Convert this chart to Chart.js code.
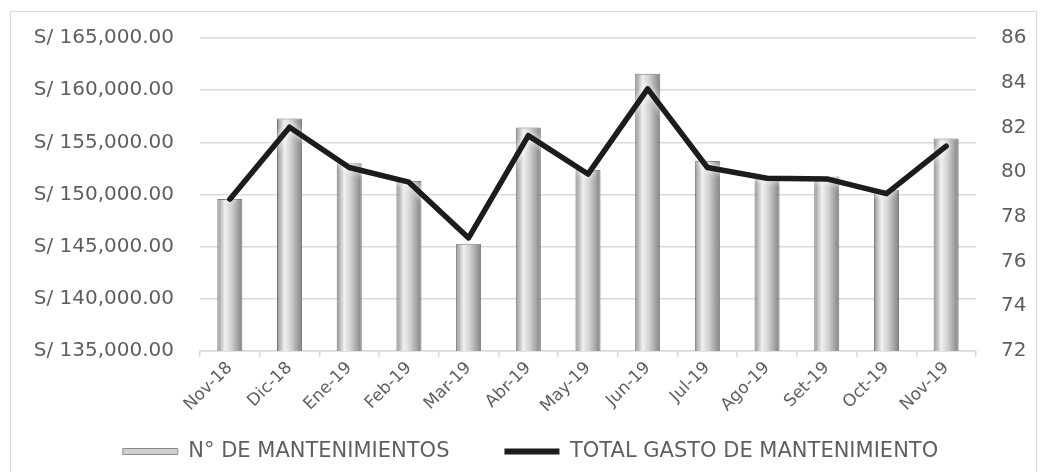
<!DOCTYPE html>
<html>
<head>
<meta charset="utf-8">
<script src="https://cdn.jsdelivr.net/npm/chart.js@4.4.1/dist/chart.umd.min.js"></script>
<style>
  html, body { margin: 0; padding: 0; background: #ffffff; }
  #wrap { width: 1041px; height: 472px; position: relative; }
</style>
</head>
<body>
<div id="wrap"><canvas id="c" width="1041" height="472"></canvas></div>
<script>
const categories = ['Nov-18','Dic-18','Ene-19','Feb-19','Mar-19','Abr-19','May-19','Jun-19','Jul-19','Ago-19','Set-19','Oct-19','Nov-19'];
const mantenimientos = [78.8, 82.4, 80.4, 79.6, 76.8, 82.0, 80.1, 84.4, 80.5, 79.8, 79.8, 79.2, 81.5];
const gastoTotal = [149550, 156450, 152590, 151180, 145840, 155640, 151960, 160130, 152590, 151560, 151490, 150080, 154640];
const seriesNames = ['N° DE MANTENIMIENTOS', 'TOTAL GASTO DE MANTENIMIENTO'];

const FONT = '"DejaVu Sans", sans-serif';
const TXT = '#5f5f5f';
const GRID = '#d9d9d9';
const BAR_PCT = 0.42;

function barGradient(c) {
  const chart = c.chart;
  const xs = chart.scales && chart.scales.x;
  if (c.type !== 'data' || !xs || !chart.chartArea) return '#c8c8c8';
  const x = xs.getPixelForValue(c.dataIndex);
  const w = (xs.width / categories.length) * BAR_PCT;
  const g = chart.ctx.createLinearGradient(x - w / 2, 0, x + w / 2, 0);
  g.addColorStop(0, '#939393');
  g.addColorStop(0.3, '#f0f0f0');
  g.addColorStop(0.55, '#d2d2d2');
  g.addColorStop(1, '#828282');
  return g;
}

const framePlugin = {
  id: 'frame',
  beforeDraw(chart) {
    const ctx = chart.ctx;
    ctx.save();
    ctx.fillStyle = '#ffffff';
    ctx.fillRect(0, 0, chart.width, chart.height);
    ctx.strokeStyle = '#d9d9d9';
    ctx.lineWidth = 1;
    ctx.strokeRect(10.5, 11.5, 1026, 470);
    ctx.restore();
  },
  afterLayout(chart) {
    if (chart.legend) { chart.legend.left += 10; chart.legend.right += 10; }
    if (chart.scales.x) { chart.scales.x._computeLabelArea = () => null; }
  },
  beforeDatasetDraw(chart, args) {
    if (args.index === 1) {
      const ctx = chart.ctx;
      ctx.save();
      ctx.shadowColor = 'rgba(255,255,255,0.95)';
      ctx.shadowBlur = 6;
    }
  },
  afterDatasetDraw(chart, args) {
    if (args.index === 1) chart.ctx.restore();
  }
};

new Chart(document.getElementById('c'), {
  data: {
    labels: categories,
    datasets: [
      {
        type: 'bar',
        label: seriesNames[0],
        data: mantenimientos,
        yAxisID: 'y1',
        order: 1,
        backgroundColor: barGradient,
        borderColor: '#777777',
        borderWidth: 1,
        barPercentage: BAR_PCT,
        categoryPercentage: 1.0
      },
      {
        type: 'line',
        label: seriesNames[1],
        data: gastoTotal,
        yAxisID: 'y',
        order: 0,
        borderColor: '#1c1c1c',
        backgroundColor: '#1c1c1c',
        borderWidth: 5.5,
        pointRadius: 0,
        tension: 0,
        borderJoinStyle: 'round',
        borderCapStyle: 'round'
      }
    ]
  },
  options: {
    responsive: false,
    animation: false,
    devicePixelRatio: 1,
    layout: { padding: { top: 33, left: 0, right: 0, bottom: 0 } },
    plugins: {
      tooltip: { enabled: false },
      legend: {
        position: 'bottom',
        labels: {
          color: TXT,
          font: { family: FONT, size: 21 },
          boxWidth: 55,
          boxHeight: 6,
          padding: 55,
          generateLabels(chart) {
            const items = Chart.defaults.plugins.legend.labels.generateLabels(chart);
            items.forEach(it => {
              if (it.datasetIndex === 0) {
                it.fillStyle = '#cfcfcf'; it.strokeStyle = '#8c8c8c'; it.lineWidth = 1;
              } else {
                it.fillStyle = '#1c1c1c'; it.strokeStyle = '#1c1c1c'; it.lineWidth = 0;
              }
            });
            return items.sort((a, b) => a.datasetIndex - b.datasetIndex);
          }
        }
      }
    },
    scales: {
      x: {
        type: 'category',
        offset: true,
        grid: { display: true, drawOnChartArea: false, drawTicks: true, tickLength: 6, color: GRID, lineWidth: 1.5, offset: true },
        border: { display: true, color: GRID, width: 1.5 },
        ticks: { color: TXT, font: { family: FONT, size: 17 }, minRotation: 45, maxRotation: 45, autoSkip: false, padding: 1 },
        afterFit(s) { s.height = 35; }
      },
      y: {
        position: 'left',
        min: 135000, max: 165000,
        grid: { color: GRID, lineWidth: 1.5, drawTicks: false },
        border: { display: false },
        ticks: {
          stepSize: 5000, padding: 26, color: TXT, font: { family: FONT, size: 20 },
          callback: v => 'S/ ' + Number(v).toLocaleString('en-US', { minimumFractionDigits: 2, maximumFractionDigits: 2 })
        },
        afterFit(s) { s.width = 200; }
      },
      y1: {
        position: 'right',
        min: 72, max: 86,
        grid: { display: false, drawTicks: false },
        border: { display: false },
        ticks: { stepSize: 2, padding: 25, color: TXT, font: { family: FONT, size: 20 } },
        afterFit(s) { s.width = 65; }
      }
    }
  },
  plugins: [framePlugin]
});
</script>
</body>
</html>
